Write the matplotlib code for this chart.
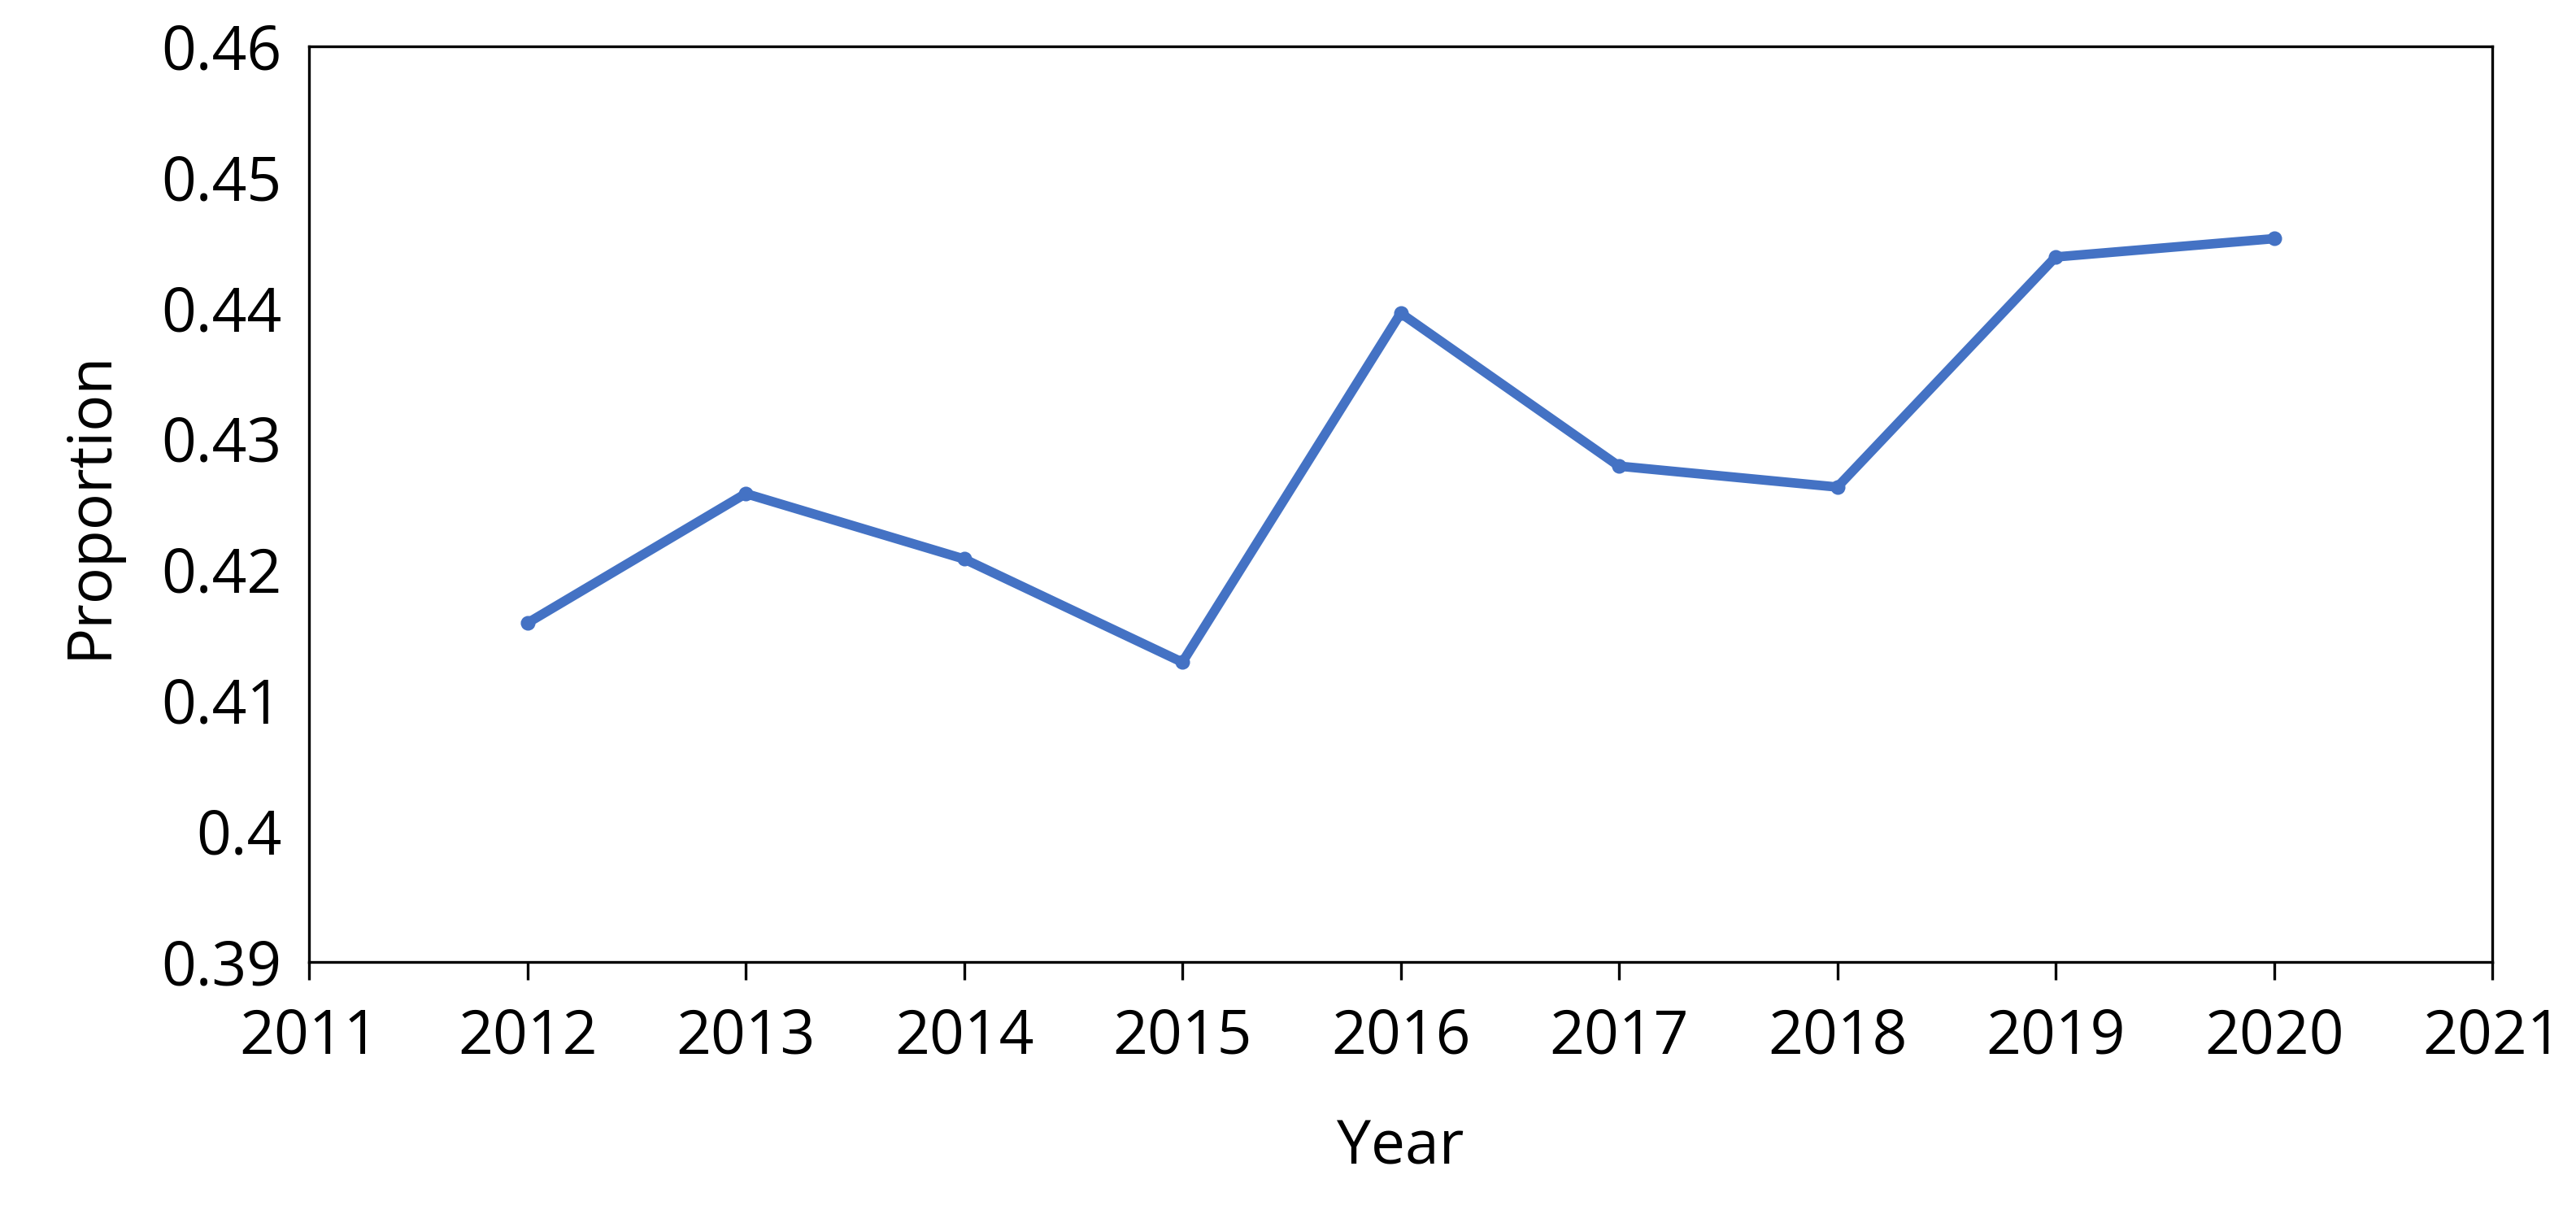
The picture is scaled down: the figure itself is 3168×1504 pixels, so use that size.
import matplotlib.pyplot as plt

years = [2012, 2013, 2014, 2015, 2016, 2017, 2018, 2019, 2020]
proportion = [0.4159, 0.4258, 0.4208, 0.4129, 0.4396, 0.4279, 0.4263, 0.4439, 0.4453]
x_ticks = list(range(2011, 2022))
y_ticks = [0.39, 0.40, 0.41, 0.42, 0.43, 0.44, 0.45, 0.46]
y_labels = ["0.39", "0.4", "0.41", "0.42", "0.43", "0.44", "0.45", "0.46"]

plt.rcParams['font.family'] = ['Open Sans', 'DejaVu Sans']

fig = plt.figure(figsize=(15.84, 7.52), dpi=200)
ax = fig.add_axes([0.12, 0.2137, 0.8475, 0.7483])
ax.plot(years, proportion, color="#4472C4", linewidth=4.2,
        marker="o", markersize=5.5)

ax.set_xlim(2011, 2021)
ax.set_ylim(0.39, 0.46)
ax.set_xticks(x_ticks)
ax.set_yticks(y_ticks)
ax.set_yticklabels(y_labels)
ax.tick_params(axis="x", direction="out", length=8, width=1.2, labelsize=27, pad=12)
ax.tick_params(axis="y", length=0, labelsize=27, pad=12)
for s in ax.spines.values():
    s.set_linewidth(1.2)
    s.set_color("black")

ax.set_xlabel("Year", fontsize=27, labelpad=22)
ax.set_ylabel("Proportion", fontsize=27, labelpad=18)

fig.savefig("out.png", dpi=200)
